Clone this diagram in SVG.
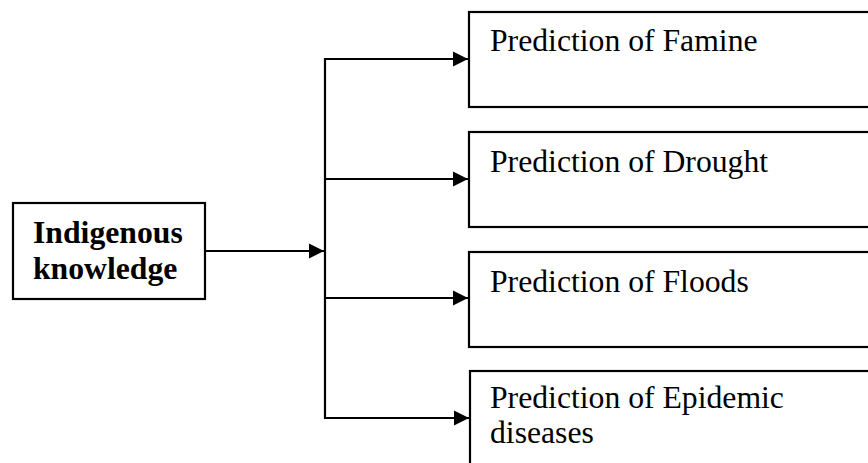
<svg xmlns="http://www.w3.org/2000/svg" width="868" height="463" viewBox="0 0 868 463">
<style>
.box{fill:#fff;stroke:#000;stroke-width:2.2}
.t{font-family:"Liberation Serif","Times New Roman",serif;font-size:31.7px;fill:#000}
.b{font-weight:bold}
.ln{stroke:#000;stroke-width:2.2;fill:none}
</style>
<defs>
<marker id="ah" markerUnits="userSpaceOnUse" markerWidth="16" markerHeight="16" viewBox="0 0 16 16" refX="15" refY="8" orient="auto">
<path d="M0,0.5 L15,8 L0,15.5 Z" fill="#000"/>
</marker>
</defs>
<g id="connectors">
<line class="ln" x1="325" y1="58" x2="325" y2="419"/>
<line class="ln" x1="205" y1="251" x2="324" y2="251" marker-end="url(#ah)"/>
<line class="ln" x1="324" y1="59" x2="468" y2="59" marker-end="url(#ah)"/>
<line class="ln" x1="324" y1="179" x2="468" y2="179" marker-end="url(#ah)"/>
<line class="ln" x1="324" y1="298" x2="468" y2="298" marker-end="url(#ah)"/>
<line class="ln" x1="324" y1="418" x2="469" y2="418" marker-end="url(#ah)"/>
</g>
<g id="node-indigenous">
<rect class="box" x="13" y="203" width="192" height="96"/>
<text class="t b" x="33" y="243">Indigenous</text>
<text class="t b" x="33" y="279">knowledge</text>
</g>
<g id="node-famine">
<rect class="box" x="469" y="12" width="420" height="95"/>
<text class="t" x="490" y="51">Prediction of Famine</text>
</g>
<g id="node-drought">
<rect class="box" x="469" y="132" width="420" height="95"/>
<text class="t" x="490" y="172">Prediction of Drought</text>
</g>
<g id="node-floods">
<rect class="box" x="469" y="252" width="420" height="95"/>
<text class="t" x="490" y="292">Prediction of Floods</text>
</g>
<g id="node-epidemic">
<rect class="box" x="470" y="371" width="420" height="110"/>
<text class="t" x="490" y="408">Prediction of Epidemic</text>
<text class="t" x="490" y="443">diseases</text>
</g>
</svg>
